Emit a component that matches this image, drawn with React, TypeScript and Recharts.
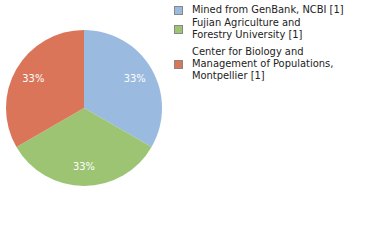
import { PieChart, Pie, Cell, Legend } from "recharts";

const sources = [
  "Mined from GenBank, NCBI [1]",
  "Fujian Agriculture and Forestry University [1]",
  "Center for Biology and Management of Populations, Montpellier [1]",
];
const counts = [1, 1, 1];
const legendLines = [
  ["Mined from GenBank, NCBI [1]"],
  ["Fujian Agriculture and", "Forestry University [1]"],
  ["Center for Biology and", "Management of Populations,", "Montpellier [1]"],
];
const colors = ["#9bbadf", "#9cc472", "#da755a"];

const FONT = "'DejaVu Sans Condensed', 'DejaVu Sans', sans-serif";
const RAD = Math.PI / 180;

const data = sources.map((name, i) => ({ name, value: counts[i] }));

function renderLabel(props: any) {
  const { cx, cy, midAngle, outerRadius, percent } = props;
  const r = outerRadius * 0.75;
  const x = cx + r * Math.cos(-midAngle * RAD);
  const y = cy + r * Math.sin(-midAngle * RAD);
  return (
    <text
      x={x}
      y={y}
      fill="#ffffff"
      textAnchor="middle"
      dominantBaseline="central"
      fontSize={11}
      fontFamily={FONT}
    >
      {Math.round(percent * 100)}%
    </text>
  );
}

function LegendBox() {
  return (
    <div style={{ fontFamily: FONT, fontSize: 11, color: "#222", lineHeight: "12px" }}>
      {legendLines.map((lines, i) => (
        <div key={i} style={{ display: "flex", alignItems: "center", marginBottom: i === 0 ? 1 : 5 }}>
          <span
            style={{
              width: 7,
              height: 7,
              background: colors[i],
              border: "1px solid #888",
              marginRight: 9,
              flexShrink: 0,
            }}
          />
          <div>
            {lines.map((t) => (
              <div key={t}>{t}</div>
            ))}
          </div>
        </div>
      ))}
    </div>
  );
}

export default function App() {
  return (
    <div style={{ position: "absolute", left: 0, top: 0, width: 380, height: 240, background: "#fff" }}>
      <PieChart width={380} height={240} margin={{ top: 0, right: 0, bottom: 0, left: 0 }}>
        <Pie
          data={data}
          dataKey="value"
          nameKey="name"
          cx={84}
          cy={108}
          outerRadius={78}
          startAngle={90}
          endAngle={-270}
          stroke="none"
          label={renderLabel}
          labelLine={false}
          isAnimationActive={false}
        >
          {data.map((d, i) => (
            <Cell key={d.name} fill={colors[i]} />
          ))}
        </Pie>
        <Legend
          layout="vertical"
          verticalAlign="top"
          align="right"
          content={() => <LegendBox />}
          wrapperStyle={{ left: 174, top: 4, width: 200 }}
        />
      </PieChart>
    </div>
  );
}
